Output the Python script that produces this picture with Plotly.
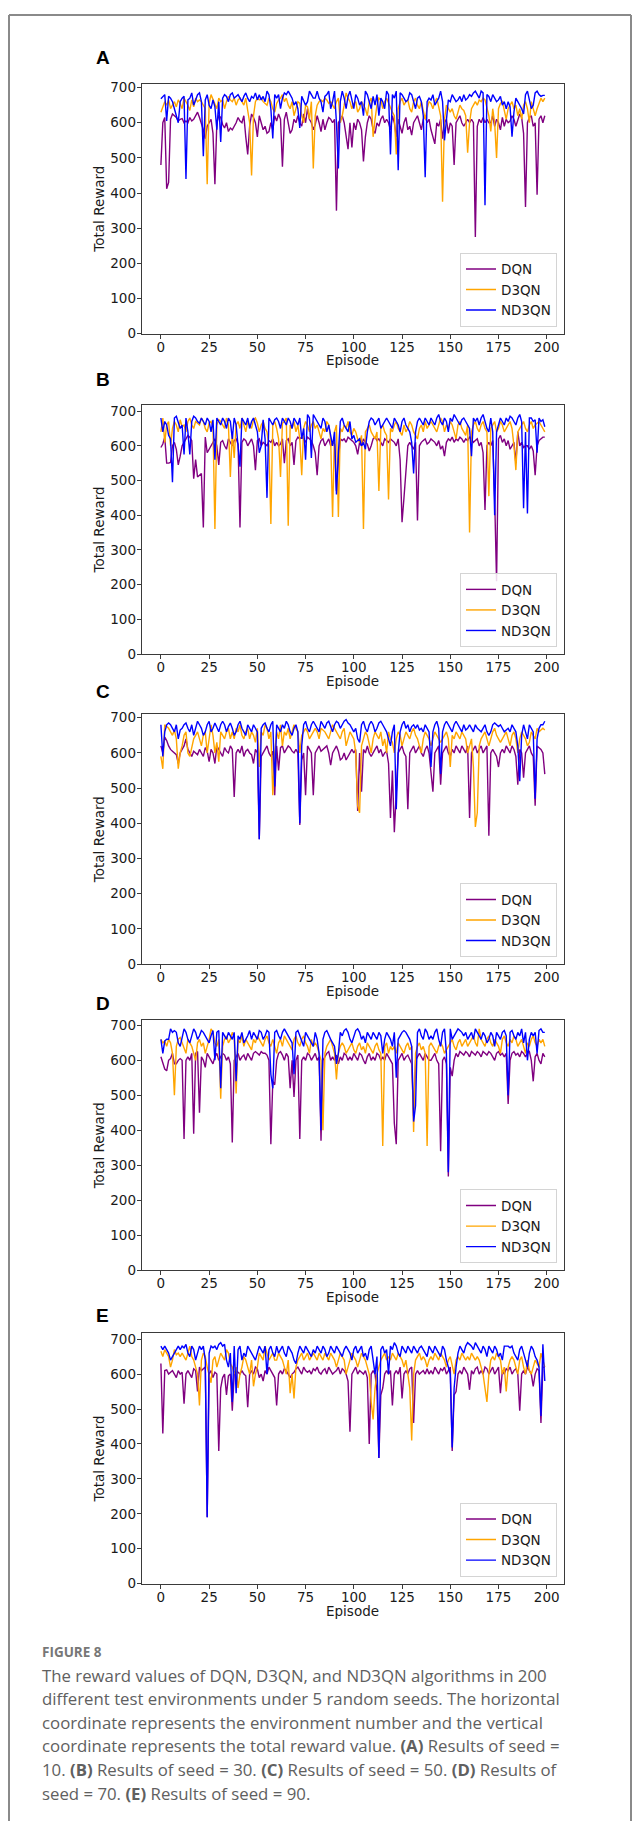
import plotly.graph_objects as go

W, H = 639, 1829
episodes = list(range(200))
series_names = ["DQN", "D3QN", "ND3QN"]
panel_labels = ["A", "B", "C", "D", "E"]
x_ticks = [0, 25, 50, 75, 100, 125, 150, 175, 200]
y_ticks = [0, 100, 200, 300, 400, 500, 600, 700]
x_title = "Episode"
y_title = "Total Reward"

A_DQN = [480, 600, 615, 412, 430, 610, 625, 620, 615, 605, 610, 612, 600, 605, 600, 615, 605, 610, 620, 630,
         615, 600, 580, 555, 590, 600, 610, 570, 425, 600, 620, 615, 595, 585, 600, 575, 585, 580, 590, 600,
         615, 605, 600, 620, 560, 510, 590, 625, 615, 600, 560, 620, 600, 580, 590, 570, 575, 600, 580, 620,
         605, 625, 610, 475, 610, 630, 600, 570, 580, 610, 600, 620, 600, 590, 625, 600, 640, 610, 600, 580,
         595, 620, 600, 575, 610, 580, 600, 615, 610, 600, 610, 350, 600, 610, 620, 600, 560, 525, 600, 530,
         600, 580, 610, 600, 580, 490, 560, 600, 620, 610, 580, 570, 600, 590, 610, 620, 600, 610, 600, 580,
         620, 600, 560, 610, 590, 570, 600, 615, 580, 590, 565, 600, 610, 620, 600, 580, 610, 620, 600, 610,
         580, 560, 540, 600, 590, 610, 555, 600, 610, 570, 600, 590, 480, 600, 610, 620, 600, 590, 600, 610,
         600, 610, 600, 275, 590, 610, 600, 615, 600, 610, 600, 600, 620, 590, 610, 600, 580, 615, 590, 610,
         600, 605, 620, 610, 590, 610, 625, 615, 570, 360, 600, 615, 620, 590, 600, 395, 610, 620, 600, 620]
A_D3QN = [630, 645, 660, 650, 665, 640, 650, 660, 645, 665, 655, 640, 670, 660, 650, 635, 665, 645, 670, 660,
          665, 660, 650, 640, 425, 655, 680, 665, 650, 640, 670, 660, 665, 640, 660, 675, 665, 660, 670, 650,
          665, 670, 660, 650, 670, 640, 600, 450, 620, 660, 670, 665, 670, 660, 655, 650, 670, 660, 640, 630,
          655, 665, 670, 680, 660, 670, 650, 640, 660, 620, 640, 660, 655, 620, 600, 650, 645, 610, 660, 470,
          620, 650, 660, 665, 660, 670, 665, 655, 660, 650, 640, 660, 670, 600, 620, 650, 685, 670, 660, 640,
          655, 660, 630, 640, 660, 650, 640, 620, 660, 670, 560, 610, 650, 670, 665, 640, 660, 670, 655, 640,
          630, 620, 510, 640, 660, 670, 650, 660, 665, 640, 630, 660, 670, 650, 640, 660, 630, 610, 640, 660,
          655, 640, 660, 670, 645, 620, 375, 610, 650, 640, 630, 640, 620, 610, 630, 650, 640, 635, 620, 515,
          600, 640, 650, 660, 650, 665, 660, 670, 665, 640, 620, 575, 640, 600, 500, 640, 655, 660, 630, 610,
          640, 650, 660, 640, 650, 620, 640, 610, 650, 660, 640, 600, 660, 640, 620, 640, 655, 670, 660, 670]
A_ND3QN = [668, 675, 680, 605, 675, 670, 660, 640, 620, 600, 660, 670, 675, 440, 665, 670, 685, 650, 665, 680,
           685, 660, 505, 665, 680, 650, 640, 665, 645, 580, 660, 545, 670, 680, 675, 660, 680, 685, 670, 675,
           680, 670, 660, 675, 685, 670, 660, 675, 670, 685, 665, 680, 665, 675, 660, 690, 680, 640, 555, 680,
           670, 680, 640, 670, 685, 680, 690, 680, 670, 650, 660, 640, 585, 675, 660, 650, 660, 690, 680, 670,
           670, 690, 670, 660, 630, 675, 680, 690, 640, 660, 690, 600, 470, 660, 690, 670, 640, 675, 690, 660,
           640, 680, 670, 650, 660, 620, 690, 680, 660, 640, 675, 650, 680, 620, 670, 660, 640, 690, 680, 510,
           680, 670, 690, 465, 685, 680, 670, 660, 665, 685, 680, 660, 640, 670, 675, 660, 620, 445, 660, 670,
           665, 680, 650, 660, 670, 690, 660, 550, 600, 665, 660, 680, 670, 660, 665, 675, 660, 680, 665, 670,
           680, 675, 685, 690, 680, 670, 690, 685, 365, 680, 675, 660, 680, 670, 660, 665, 675, 650, 660, 640,
           660, 645, 560, 630, 670, 660, 650, 640, 625, 680, 690, 660, 640, 650, 685, 690, 680, 675, 678, 678]

B_DQN = [595, 605, 625, 550, 550, 552, 600, 610, 590, 545, 570, 600, 610, 620, 630, 625, 615, 505, 560, 510,
         515, 520, 365, 625, 580, 590, 600, 610, 620, 600, 545, 610, 615, 600, 590, 620, 610, 600, 615, 620,
         605, 365, 610, 620, 615, 600, 610, 620, 600, 530, 615, 620, 600, 610, 605, 600, 615, 610, 620, 600,
         610, 600, 605, 620, 550, 615, 620, 600, 610, 545, 615, 625, 620, 625, 620, 610, 625, 620, 615, 600,
         580, 515, 600, 615, 620, 600, 610, 620, 600, 610, 605, 470, 560, 620, 615, 620, 610, 625, 620, 615,
         610, 600, 575, 610, 600, 620, 610, 605, 585, 600, 620, 625, 615, 620, 610, 600, 620, 615, 610, 620,
         615, 610, 600, 620, 560, 380, 450, 540, 600, 610, 600, 590, 610, 385, 600, 610, 615, 620, 605, 610,
         620, 615, 610, 600, 615, 590, 600, 570, 610, 620, 615, 625, 610, 620, 615, 625, 620, 610, 620, 615,
         625, 620, 610, 615, 620, 600, 610, 580, 415, 600, 610, 600, 615, 450, 210, 620, 630, 610, 620, 600,
         615, 590, 600, 610, 550, 640, 600, 610, 595, 600, 600, 590, 600, 585, 515, 600, 615, 620, 625, 625]
B_D3QN = [640, 680, 610, 660, 670, 600, 650, 670, 660, 640, 675, 655, 660, 640, 670, 680, 660, 650, 670, 665,
          660, 680, 670, 650, 640, 665, 670, 655, 360, 660, 675, 670, 660, 650, 680, 660, 510, 640, 565, 660,
          670, 650, 680, 660, 640, 670, 660, 650, 675, 680, 665, 640, 660, 670, 650, 640, 600, 375, 660, 670,
          650, 620, 510, 665, 670, 680, 370, 660, 650, 670, 640, 660, 620, 515, 650, 670, 660, 640, 660, 670,
          650, 660, 640, 620, 650, 640, 670, 660, 620, 395, 640, 660, 395, 650, 640, 660, 650, 670, 640, 630,
          650, 640, 620, 610, 630, 360, 640, 650, 660, 640, 630, 620, 640, 470, 650, 660, 640, 630, 445, 650,
          640, 660, 670, 650, 640, 630, 660, 640, 650, 670, 660, 640, 630, 620, 650, 660, 640, 670, 650, 660,
          670, 660, 650, 640, 660, 680, 670, 640, 660, 650, 670, 660, 640, 620, 660, 670, 650, 640, 630, 660,
          350, 640, 660, 670, 650, 640, 660, 670, 650, 640, 455, 650, 660, 670, 640, 650, 670, 660, 640, 650,
          660, 670, 650, 600, 530, 640, 650, 660, 670, 650, 640, 660, 670, 650, 660, 665, 670, 660, 650, 640]
B_ND3QN = [680, 640, 670, 660, 630, 620, 495, 680, 685, 670, 650, 660, 575, 680, 640, 575, 670, 685, 680, 670,
           665, 680, 670, 660, 680, 670, 640, 675, 560, 680, 670, 660, 680, 670, 650, 680, 670, 620, 680, 660,
           600, 540, 680, 670, 660, 680, 650, 670, 680, 660, 640, 580, 600, 675, 620, 450, 680, 670, 660, 675,
           680, 670, 650, 680, 670, 660, 680, 670, 650, 680, 670, 660, 680, 620, 650, 560, 690, 680, 565, 690,
           680, 670, 660, 650, 680, 670, 640, 660, 630, 600, 640, 460, 580, 670, 680, 660, 650, 640, 670, 620,
           630, 610, 615, 620, 600, 610, 590, 640, 670, 680, 675, 660, 670, 680, 650, 660, 670, 680, 670, 660,
           650, 680, 670, 660, 640, 670, 680, 660, 650, 640, 610, 520, 640, 670, 680, 670, 660, 680, 670, 660,
           680, 670, 660, 680, 690, 670, 660, 680, 670, 640, 680, 670, 690, 680, 670, 660, 675, 680, 670, 660,
           650, 570, 680, 670, 680, 660, 680, 690, 670, 650, 640, 680, 640, 400, 640, 660, 680, 670, 660, 680,
           670, 685, 680, 670, 660, 680, 690, 670, 420, 640, 405, 680, 680, 670, 675, 580, 680, 670, 675, 655]

C_DQN = [620, 600, 645, 635, 620, 610, 605, 600, 595, 570, 600, 610, 620, 640, 610, 600, 590, 605, 600, 595,
         610, 600, 590, 615, 605, 575, 610, 600, 570, 620, 610, 600, 590, 615, 605, 600, 620, 610, 475, 600,
         610, 600, 620, 590, 605, 610, 600, 595, 570, 610, 600, 355, 590, 600, 610, 620, 600, 590, 605, 480,
         620, 550, 615, 620, 600, 610, 620, 615, 605, 600, 610, 600, 395, 580, 600, 480, 620, 610, 600, 480,
         600, 610, 620, 605, 610, 615, 620, 600, 565, 600, 610, 620, 605, 580, 585, 600, 580, 590, 600, 610,
         600, 610, 435, 600, 490, 610, 600, 620, 600, 590, 600, 610, 620, 600, 610, 590, 600, 605, 570, 415,
         550, 375, 480, 600, 610, 620, 600, 590, 440, 600, 610, 620, 600, 610, 620, 600, 590, 610, 620, 600,
         545, 490, 600, 610, 620, 510, 600, 610, 620, 600, 590, 610, 600, 620, 610, 600, 620, 610, 600, 620,
         415, 600, 610, 620, 600, 610, 620, 600, 610, 620, 365, 600, 610, 600, 590, 560, 600, 610, 600, 620,
         610, 600, 620, 610, 590, 510, 610, 600, 530, 600, 610, 620, 600, 590, 450, 620, 615, 610, 600, 540]
C_D3QN = [590, 555, 680, 675, 670, 660, 650, 665, 640, 555, 600, 620, 650, 660, 600, 590, 620, 640, 650, 660,
          640, 620, 650, 660, 600, 640, 680, 650, 600, 630, 575, 660, 650, 640, 660, 670, 640, 660, 640, 670,
          660, 680, 650, 640, 660, 670, 640, 660, 650, 630, 670, 560, 660, 650, 680, 670, 640, 660, 480, 600,
          660, 640, 680, 620, 660, 650, 670, 640, 660, 680, 670, 660, 600, 650, 660, 670, 660, 640, 650, 660,
          670, 660, 640, 670, 665, 660, 650, 640, 660, 680, 670, 660, 650, 640, 660, 670, 620, 640, 660, 650,
          640, 600, 450, 430, 620, 640, 660, 650, 620, 600, 640, 660, 650, 640, 660, 620, 640, 600, 660, 640,
          630, 600, 640, 660, 650, 620, 640, 660, 650, 640, 660, 670, 650, 640, 620, 600, 640, 660, 650, 640,
          620, 640, 660, 650, 640, 630, 640, 650, 660, 640, 560, 650, 640, 660, 650, 640, 660, 650, 640, 600,
          620, 640, 560, 390, 430, 620, 640, 650, 660, 640, 620, 640, 660, 670, 650, 640, 630, 640, 650, 660,
          640, 620, 650, 660, 640, 600, 640, 660, 650, 640, 620, 630, 660, 650, 640, 670, 660, 665, 670, 665]
C_ND3QN = [680, 590, 660, 680, 685, 680, 670, 660, 680, 640, 665, 670, 680, 685, 670, 660, 680, 650, 670, 690,
           680, 670, 650, 660, 680, 690, 660, 670, 685, 670, 660, 680, 690, 680, 660, 675, 685, 670, 650, 660,
           680, 690, 670, 660, 650, 680, 670, 660, 680, 670, 660, 355, 670, 680, 685, 670, 660, 680, 690, 505,
           680, 670, 660, 680, 670, 690, 680, 660, 650, 670, 680, 660, 400, 620, 680, 690, 670, 660, 680, 690,
           680, 670, 660, 690, 680, 670, 685, 690, 675, 660, 680, 690, 685, 670, 680, 690, 695, 685, 680, 670,
           660, 670, 640, 630, 680, 690, 670, 660, 680, 690, 680, 660, 670, 685, 690, 680, 670, 660, 640, 620,
           660, 680, 440, 600, 660, 680, 690, 670, 680, 660, 675, 680, 670, 680, 665, 670, 660, 680, 670, 660,
           560, 660, 680, 690, 670, 540, 660, 680, 690, 680, 670, 660, 680, 690, 680, 670, 660, 680, 665, 670,
           680, 670, 660, 680, 670, 665, 660, 670, 680, 660, 650, 660, 680, 685, 680, 675, 680, 670, 660, 665,
           670, 660, 680, 670, 660, 620, 520, 650, 680, 660, 640, 680, 670, 660, 470, 640, 670, 680, 680, 690]

D_DQN = [610, 595, 575, 570, 600, 605, 620, 590, 590, 600, 605, 600, 375, 600, 610, 600, 620, 390, 620, 625,
         450, 610, 600, 580, 620, 610, 600, 590, 610, 620, 600, 610, 620, 615, 600, 610, 590, 365, 600, 610,
         620, 600, 610, 615, 600, 620, 610, 600, 620, 625, 620, 615, 625, 620, 620, 615, 600, 360, 540, 530,
         600, 620, 625, 615, 600, 620, 610, 520, 600, 495, 600, 615, 375, 600, 610, 600, 620, 615, 600, 610,
         620, 600, 610, 370, 600, 610, 620, 625, 600, 610, 600, 615, 590, 610, 600, 620, 615, 600, 610, 600,
         620, 610, 600, 620, 615, 600, 590, 610, 620, 600, 610, 600, 620, 615, 600, 610, 600, 620, 610, 600,
         590, 420, 360, 600, 610, 620, 600, 610, 615, 600, 590, 440, 600, 610, 620, 610, 600, 620, 610, 600,
         600, 610, 620, 600, 590, 340, 600, 610, 590, 268, 580, 555, 600, 620, 610, 625, 620, 615, 625, 620,
         610, 625, 620, 615, 625, 620, 610, 625, 620, 615, 625, 620, 610, 600, 620, 625, 615, 620, 610, 620,
         475, 600, 620, 625, 615, 620, 610, 625, 620, 610, 620, 625, 600, 540, 610, 620, 600, 590, 620, 610]
D_D3QN = [660, 650, 655, 640, 660, 650, 620, 500, 640, 660, 665, 650, 640, 620, 660, 650, 640, 620, 600, 650,
          660, 640, 650, 620, 640, 660, 690, 680, 650, 640, 660, 490, 640, 660, 670, 650, 660, 680, 670, 505,
          660, 650, 670, 640, 660, 650, 640, 630, 660, 650, 670, 660, 650, 640, 660, 670, 650, 640, 660, 640,
          620, 650, 660, 640, 670, 660, 650, 640, 630, 660, 670, 650, 640, 660, 670, 650, 640, 620, 660, 640,
          650, 640, 620, 600, 400, 620, 640, 650, 660, 640, 620, 545, 620, 640, 650, 640, 620, 630, 640, 650,
          630, 620, 640, 650, 630, 640, 620, 650, 640, 630, 620, 640, 650, 630, 620, 355, 640, 650, 620, 640,
          630, 640, 620, 650, 640, 630, 620, 640, 650, 630, 640, 395, 620, 640, 650, 630, 640, 620, 355, 640,
          650, 640, 630, 620, 640, 650, 640, 620, 630, 640, 650, 660, 640, 630, 650, 660, 640, 650, 660, 640,
          650, 660, 670, 650, 640, 690, 660, 650, 640, 660, 670, 650, 640, 660, 650, 640, 620, 660, 670, 650,
          640, 660, 650, 670, 660, 640, 650, 660, 640, 620, 650, 640, 660, 670, 650, 640, 660, 650, 660, 640]
D_ND3QN = [660, 620, 655, 660, 660, 690, 680, 685, 680, 650, 640, 670, 690, 680, 660, 650, 670, 690, 680, 660,
           670, 685, 680, 670, 660, 650, 670, 685, 600, 680, 685, 520, 680, 670, 660, 680, 670, 660, 680, 540,
           670, 660, 680, 650, 660, 670, 685, 660, 680, 670, 660, 685, 680, 660, 670, 685, 680, 560, 520, 680,
           685, 670, 660, 680, 690, 680, 670, 660, 650, 560, 680, 685, 670, 660, 640, 680, 670, 660, 650, 640,
           680, 660, 620, 400, 660, 680, 685, 670, 660, 650, 640, 590, 620, 680, 670, 685, 690, 680, 660, 650,
           670, 685, 690, 680, 660, 670, 650, 680, 670, 660, 680, 670, 660, 680, 670, 620, 660, 680, 670, 660,
           640, 680, 550, 660, 670, 680, 685, 680, 670, 660, 640, 425, 470, 680, 690, 670, 660, 690, 680, 660,
           670, 660, 680, 690, 660, 640, 680, 690, 620, 280, 690, 660, 670, 680, 690, 685, 680, 670, 680, 660,
           670, 680, 660, 690, 680, 670, 660, 680, 670, 650, 660, 680, 670, 640, 680, 670, 660, 680, 685, 670,
           500, 680, 685, 670, 660, 680, 670, 690, 650, 680, 600, 660, 680, 670, 680, 620, 685, 690, 680, 680]

E_DQN = [630, 430, 610, 612, 600, 605, 610, 600, 590, 610, 600, 605, 515, 600, 610, 600, 590, 615, 610, 550,
         620, 610, 615, 620, 190, 600, 610, 590, 605, 600, 380, 560, 590, 600, 540, 595, 600, 495, 600, 610,
         605, 600, 610, 600, 595, 505, 600, 610, 600, 620, 615, 590, 600, 580, 610, 600, 620, 610, 600, 590,
         510, 600, 610, 600, 615, 610, 600, 590, 600, 605, 615, 620, 610, 600, 620, 610, 605, 610, 600, 615,
         610, 620, 605, 600, 610, 615, 600, 620, 610, 600, 605, 610, 620, 600, 615, 610, 600, 580, 435, 600,
         610, 620, 600, 610, 605, 600, 610, 590, 400, 600, 610, 600, 550, 360, 540, 560, 600, 610, 600, 610,
         510, 600, 610, 600, 620, 530, 600, 610, 600, 615, 620, 460, 600, 610, 600, 605, 610, 600, 615, 600,
         610, 600, 620, 610, 600, 615, 610, 620, 600, 610, 620, 380, 540, 550, 600, 610, 600, 620, 610, 600,
         555, 610, 600, 615, 620, 600, 610, 600, 620, 615, 600, 610, 620, 600, 610, 620, 545, 610, 600, 615,
         610, 620, 600, 610, 615, 600, 495, 600, 610, 600, 620, 610, 600, 565, 600, 615, 610, 460, 620, 620]
E_D3QN = [665, 650, 670, 660, 650, 620, 640, 670, 655, 660, 650, 660, 650, 640, 660, 680, 650, 640, 620, 600,
          510, 640, 660, 650, 620, 600, 575, 640, 650, 620, 640, 660, 650, 640, 670, 660, 630, 620, 600, 620,
          560, 600, 620, 650, 640, 620, 600, 640, 565, 600, 620, 660, 650, 640, 680, 660, 640, 650, 660, 640,
          640, 660, 650, 640, 620, 600, 640, 545, 600, 530, 620, 640, 650, 660, 640, 650, 660, 640, 650, 660,
          650, 640, 660, 650, 640, 660, 650, 640, 660, 650, 640, 620, 640, 660, 650, 640, 600, 620, 640, 660,
          650, 640, 620, 640, 660, 650, 640, 620, 600, 520, 470, 560, 600, 620, 640, 650, 660, 640, 650, 640,
          660, 650, 640, 660, 650, 640, 620, 640, 600, 560, 410, 600, 640, 650, 660, 640, 650, 640, 620, 640,
          650, 640, 660, 650, 640, 660, 650, 640, 620, 640, 650, 620, 600, 640, 650, 640, 660, 650, 640, 650,
          640, 660, 650, 640, 650, 640, 620, 600, 560, 520, 600, 640, 650, 640, 660, 650, 640, 600, 620, 550,
          620, 640, 650, 640, 620, 600, 640, 650, 620, 600, 640, 610, 600, 620, 640, 630, 620, 660, 640, 620]
E_ND3QN = [680, 670, 680, 670, 660, 640, 650, 660, 670, 680, 670, 680, 675, 685, 660, 650, 680, 670, 640, 660,
           680, 670, 680, 640, 190, 660, 680, 675, 680, 670, 685, 690, 680, 685, 640, 620, 660, 520, 680, 545,
           670, 680, 640, 660, 650, 680, 670, 660, 650, 640, 660, 680, 670, 660, 680, 600, 670, 680, 660, 650,
           680, 660, 670, 680, 660, 650, 680, 670, 660, 640, 630, 660, 680, 670, 660, 680, 670, 660, 650, 670,
           660, 680, 670, 660, 680, 670, 650, 660, 680, 670, 660, 680, 670, 660, 650, 670, 680, 670, 660, 640,
           670, 680, 660, 670, 680, 650, 660, 640, 670, 680, 640, 600, 650, 360, 670, 680, 660, 670, 600, 680,
           670, 690, 680, 660, 650, 680, 670, 660, 680, 670, 660, 680, 670, 660, 675, 680, 670, 660, 650, 680,
           670, 660, 680, 670, 660, 650, 680, 670, 640, 620, 600, 390, 560, 620, 660, 680, 670, 660, 680, 690,
           685, 680, 670, 690, 680, 670, 660, 680, 670, 650, 680, 670, 660, 680, 670, 650, 660, 640, 680, 680,
           680, 675, 680, 660, 650, 640, 670, 680, 660, 640, 620, 660, 680, 670, 650, 640, 620, 480, 685, 580]

panel_data = [
    (A_DQN, A_D3QN, A_ND3QN),
    (B_DQN, B_D3QN, B_ND3QN),
    (C_DQN, C_D3QN, C_ND3QN),
    (D_DQN, D_D3QN, D_ND3QN),
    (E_DQN, E_D3QN, E_ND3QN),
]

# ---- layout geometry (pixels) ----
colors = ["purple", "orange", "blue"]
plot_left, plot_right = 141.7, 564.0
tops = [79.3, 402.7, 714.3, 1022.7, 1337.7]
bottoms = [331.0, 653.7, 966.0, 1274.3, 1590.0]
y_tops = [711, 718, 710, 714, 717]
label_y = [52.7, 377.3, 691.0, 1006.0, 1320.0]

def px(xp):
    return xp / W

def py(yp):
    return 1 - yp / H

axis_font = dict(family="DejaVu Sans", size=13.5, color="#1a1a1a")
line_col = "#3a3a3a"

fig = go.Figure()
layout = dict(
    width=W, height=H,
    margin=dict(l=0, r=0, t=0, b=0),
    paper_bgcolor="white", plot_bgcolor="white",
    font=axis_font,
    showlegend=True,
)
annotations = []
shapes = []

for i, data in enumerate(panel_data):
    sfx = "" if i == 0 else str(i + 1)
    for name, vals, col in zip(series_names, data, colors):
        fig.add_trace(go.Scatter(
            x=episodes, y=vals, mode="lines", name=name,
            line=dict(color=col, width=1.4),
            xaxis="x" + sfx, yaxis="y" + sfx,
            legend="legend" + sfx,
            hoverinfo="skip",
        ))
    layout["xaxis" + sfx] = dict(
        domain=[px(plot_left), px(plot_right)], anchor="y" + sfx,
        range=[-9.95, 208.95], tickmode="array", tickvals=x_ticks,
        ticks="outside", ticklen=4, tickwidth=1, tickcolor=line_col,
        ticklabelstandoff=-3,
        showline=True, linecolor=line_col, linewidth=1, mirror=True,
        showgrid=False, zeroline=False, tickfont=axis_font,
    )
    layout["yaxis" + sfx] = dict(
        domain=[py(bottoms[i]), py(tops[i])], anchor="x" + sfx,
        range=[0, y_tops[i]], tickmode="array", tickvals=y_ticks,
        ticks="outside", ticklen=4, tickwidth=1, tickcolor=line_col,
        ticklabelstandoff=-2,
        showline=True, linecolor=line_col, linewidth=1, mirror=True,
        showgrid=False, zeroline=False, tickfont=axis_font,
    )
    layout["legend" + sfx] = dict(
        x=px(plot_right - 7), y=py(bottoms[i] - 7),
        xanchor="right", yanchor="bottom",
        bgcolor="rgba(255,255,255,0.85)", bordercolor="#d4d4d4", borderwidth=1,
        font=dict(family="DejaVu Sans", size=13.5, color="#1a1a1a"),
        tracegroupgap=0,
    )
    # axis titles
    annotations.append(dict(
        text=x_title, xref="paper", yref="paper",
        x=px((plot_left + plot_right) / 2), y=py(bottoms[i] + 27.0),
        xanchor="center", yanchor="middle", showarrow=False, font=axis_font,
    ))
    annotations.append(dict(
        text=y_title, xref="paper", yref="paper", textangle=-90,
        x=px(99), y=py((tops[i] + bottoms[i]) / 2),
        xanchor="center", yanchor="middle", showarrow=False, font=axis_font,
    ))
    annotations.append(dict(
        text="<b>" + panel_labels[i] + "</b>", xref="paper", yref="paper",
        x=px(94), y=py(label_y[i]), xanchor="left", yanchor="middle",
        showarrow=False, font=dict(family="Liberation Sans", size=19, color="black"),
    ))

# caption
cap_font = dict(family="Open Sans", size=16.8, color="#606060")
annotations.append(dict(
    text="<b>FIGURE 8</b>", xref="paper", yref="paper", x=px(40), y=py(1658.3),
    xanchor="left", yanchor="middle", showarrow=False,
    font=dict(family="Open Sans", size=13.5, color="#777777"),
))
caption_lines = [
    "The reward values of DQN, D3QN, and ND3QN algorithms in 200",
    "different test environments under 5 random seeds. The horizontal",
    "coordinate represents the environment number and the vertical",
    "coordinate represents the total reward value. <b>(A)</b> Results of seed =",
    "10. <b>(B)</b> Results of seed = 30. <b>(C)</b> Results of seed = 50. <b>(D)</b> Results of",
    "seed = 70. <b>(E)</b> Results of seed = 90.",
]
cap_y = [1682.3, 1705.7, 1730.0, 1753.3, 1777.3, 1801.0]
for t, yy in zip(caption_lines, cap_y):
    annotations.append(dict(
        text=t, xref="paper", yref="paper", x=px(40), y=py(yy),
        xanchor="left", yanchor="middle", showarrow=False, font=cap_font,
    ))

# outer frame (left, top, right)
frame_col = "#8a8a8a"
shapes.append(dict(type="line", xref="paper", yref="paper", x0=px(9), x1=px(9), y0=0, y1=py(10),
                   line=dict(color=frame_col, width=2)))
shapes.append(dict(type="line", xref="paper", yref="paper", x0=px(9), x1=px(631), y0=py(10), y1=py(10),
                   line=dict(color=frame_col, width=2)))
shapes.append(dict(type="line", xref="paper", yref="paper", x0=px(631), x1=px(631), y0=0, y1=py(10),
                   line=dict(color=frame_col, width=2)))

layout["annotations"] = annotations
layout["shapes"] = shapes
fig.update_layout(**layout)
fig.write_html("out.html")
